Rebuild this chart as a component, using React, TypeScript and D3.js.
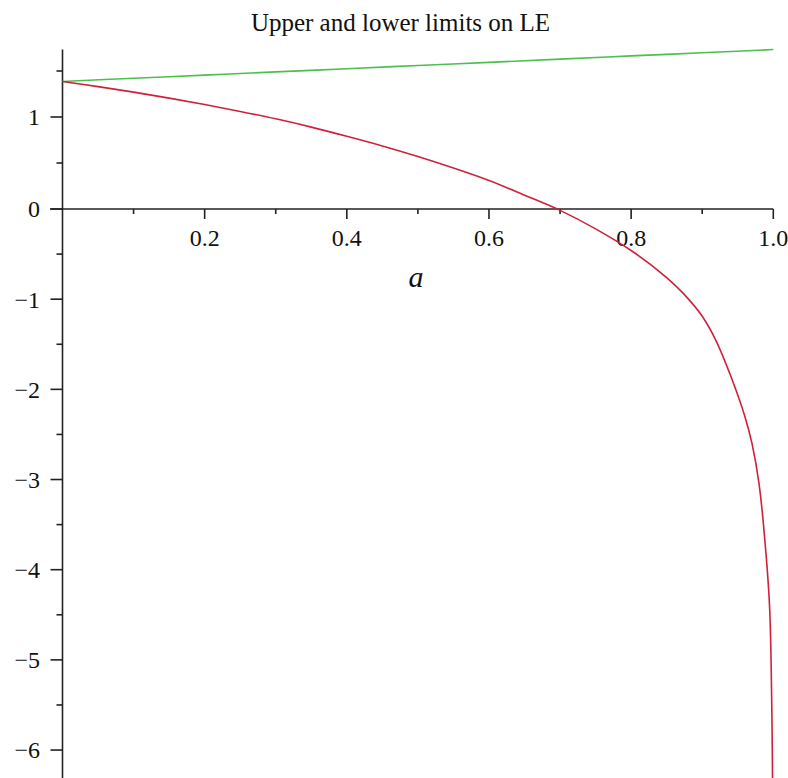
import React from "react";
import * as d3 from "d3";

// values
const aValues = [0, 0.05, 0.1, 0.15, 0.2, 0.25, 0.3, 0.35, 0.4, 0.45, 0.5, 0.55, 0.6, 0.65, 0.7, 0.75, 0.8, 0.85, 0.875, 0.9, 0.92, 0.94, 0.96, 0.97, 0.98, 0.99, 0.995, 0.998, 0.999];
const lowerLimit = [1.386, 1.33, 1.27, 1.205, 1.135, 1.06, 0.98, 0.89, 0.79, 0.685, 0.57, 0.445, 0.31, 0.15, -0.015, -0.22, -0.46, -0.76, -0.95, -1.19, -1.47, -1.85, -2.3, -2.6, -3.05, -3.85, -4.45, -5.6, -6.4];

const aUpper = [0, 0.1, 0.2, 0.3, 0.4, 0.5, 0.6, 0.7, 0.8, 0.9, 1.0];
const upperLimit = [1.386, 1.421, 1.455, 1.49, 1.525, 1.56, 1.594, 1.629, 1.664, 1.698, 1.733];

const xMajorTicks = [0.2, 0.4, 0.6, 0.8, 1.0];
const xTickLabels = ["0.2", "0.4", "0.6", "0.8", "1.0"];
const xMinorTicks = [0.1, 0.3, 0.5, 0.7, 0.9];
const yMajorTicks = [-6, -5, -4, -3, -2, -1, 0, 1];
const yMinorTicks = [-5.5, -4.5, -3.5, -2.5, -1.5, -0.5, 0.5, 1.5];

const width = 788;
const height = 778;
const font = "'Liberation Serif', 'Times New Roman', serif";

export default function App() {
  const x = d3.scaleLinear().domain([0, 1]).range([62.5, 773.3]);
  // the original plot is a bit taller per unit above zero than below
  const y = d3.scaleLinear().domain([-6.31, 0, 1.75]).range([778, 209, 48]);

  const line = d3
    .line<[number, number]>()
    .x((d) => x(d[0]))
    .y((d) => y(d[1]))
    .curve(d3.curveCatmullRom.alpha(0.5));

  const red = aValues.map((a, i) => [a, lowerLimit[i]] as [number, number]);
  const green = aUpper.map((a, i) => [a, upperLimit[i]] as [number, number]);

  const axisColor = "#222";

  return (
    <svg width={width} height={height} style={{ position: "absolute", left: 0, top: 0, background: "#fff" }}>
      <text x={400.5} y={31} textAnchor="middle" fontFamily={font} fontSize={25} fill="#111">
        Upper and lower limits on LE
      </text>

      {/* x axis */}
      <line x1={50} x2={x(1)} y1={y(0)} y2={y(0)} stroke={axisColor} strokeWidth={1.6} />
      {xMajorTicks.map((t, i) => (
        <g key={"xm" + t}>
          <line x1={x(t)} x2={x(t)} y1={y(0)} y2={y(0) + 10} stroke={axisColor} strokeWidth={1.6} />
          <text x={x(t)} y={246} textAnchor="middle" fontFamily={font} fontSize={24} fill="#111">
            {xTickLabels[i]}
          </text>
        </g>
      ))}
      {xMinorTicks.map((t) => (
        <line key={"xn" + t} x1={x(t)} x2={x(t)} y1={y(0)} y2={y(0) + 5} stroke={axisColor} strokeWidth={1.6} />
      ))}
      <text x={416} y={287} textAnchor="middle" fontFamily={font} fontStyle="italic" fontSize={30} fill="#111">
        a
      </text>

      {/* y axis */}
      <line x1={x(0)} x2={x(0)} y1={y(1.735)} y2={height} stroke={axisColor} strokeWidth={1.6} />
      {yMajorTicks.map((t) => (
        <g key={"ym" + t}>
          <line x1={x(0) - 12} x2={x(0)} y1={y(t)} y2={y(t)} stroke={axisColor} strokeWidth={1.6} />
          <text x={40} y={y(t)} dy="0.35em" textAnchor="end" fontFamily={font} fontSize={24} fill="#111">
            {t < 0 ? "\u2212" + Math.abs(t) : String(t)}
          </text>
        </g>
      ))}
      {yMinorTicks.map((t) => (
        <line key={"yn" + t} x1={x(0) - 6} x2={x(0)} y1={y(t)} y2={y(t)} stroke={axisColor} strokeWidth={1.6} />
      ))}

      <path d={line(green) ?? ""} fill="none" stroke="#4cbf4c" strokeWidth={1.6} />
      <path d={line(red) ?? ""} fill="none" stroke="#d0203a" strokeWidth={1.6} />
    </svg>
  );
}
